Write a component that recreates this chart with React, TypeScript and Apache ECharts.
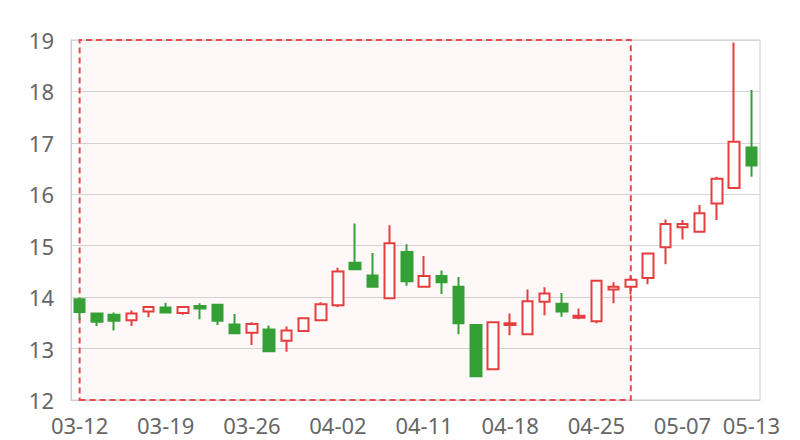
import React, { useEffect, useRef } from "react";
import * as echarts from "echarts";

const dates = [
  "03-12", "03-13", "03-14", "03-15", "03-16",
  "03-19", "03-20", "03-21", "03-22", "03-23",
  "03-26", "03-27", "03-28", "03-29", "03-30",
  "04-02", "04-03", "04-04", "04-09", "04-10",
  "04-11", "04-12", "04-13", "04-16", "04-17",
  "04-18", "04-19", "04-20", "04-23", "04-24",
  "04-25", "04-26", "04-27", "05-02", "05-03",
  "05-07", "05-08", "05-09", "05-10", "05-13",
];

// [open, close, low, high]
const ohlc = [
  [13.96, 13.71, 13.56, 13.99],
  [13.68, 13.52, 13.44, 13.69],
  [13.66, 13.54, 13.35, 13.7],
  [13.55, 13.68, 13.44, 13.74],
  [13.72, 13.81, 13.61, 13.82],
  [13.8, 13.7, 13.69, 13.89],
  [13.69, 13.81, 13.66, 13.82],
  [13.83, 13.78, 13.57, 13.88],
  [13.85, 13.54, 13.46, 13.86],
  [13.47, 13.3, 13.29, 13.67],
  [13.31, 13.48, 13.07, 13.51],
  [13.37, 12.95, 12.94, 13.45],
  [13.15, 13.35, 12.94, 13.43],
  [13.34, 13.59, 13.33, 13.6],
  [13.55, 13.86, 13.54, 13.9],
  [13.84, 14.5, 13.81, 14.57],
  [14.67, 14.54, 14.53, 15.43],
  [14.42, 14.2, 14.19, 14.86],
  [13.98, 15.05, 13.97, 15.4],
  [14.88, 14.31, 14.22, 15.03],
  [14.2, 14.41, 14.19, 14.8],
  [14.41, 14.29, 14.06, 14.52],
  [14.2, 13.49, 13.28, 14.39],
  [13.46, 12.46, 12.45, 13.47],
  [12.6, 13.51, 12.59, 13.52],
  [13.46, 13.49, 13.26, 13.68],
  [13.28, 13.92, 13.26, 14.15],
  [13.91, 14.07, 13.65, 14.19],
  [13.87, 13.72, 13.62, 14.08],
  [13.6, 13.64, 13.57, 13.78],
  [13.53, 14.32, 13.49, 14.33],
  [14.15, 14.2, 13.88, 14.29],
  [14.2, 14.34, 14.05, 14.42],
  [14.37, 14.85, 14.25, 14.87],
  [14.97, 15.42, 14.64, 15.51],
  [15.36, 15.42, 15.12, 15.5],
  [15.27, 15.63, 15.26, 15.79],
  [15.82, 16.3, 15.5, 16.34],
  [16.12, 17.02, 16.11, 18.95],
  [16.91, 16.56, 16.34, 18.03],
];

const yTicks = { min: 12, max: 19, interval: 1 };
const areaRange = ["03-12", "04-27"];

const RED = "#e63e3e";
const GREEN = "#35a035";

export default function App() {
  const ref = useRef<HTMLDivElement>(null);
  useEffect(() => {
    document.body.style.margin = "0";
    if (!ref.current) return;
    const chart = echarts.init(ref.current, undefined, { renderer: "svg" });
    const last = dates.length - 1;
    chart.setOption({
      animation: false,
      grid: {
        left: 71,
        right: 40,
        top: 40,
        bottom: 40,
        show: true,
        borderColor: "#ccc",
        borderWidth: 1,
      },
      xAxis: {
        type: "category",
        data: dates,
        boundaryGap: true,
        axisLine: { show: true, lineStyle: { color: "#ccc" } },
        axisTick: { show: false },
        axisLabel: {
          interval: (i: number) => i % 5 === 0 || i === last,
          color: "#666",
          fontSize: 22,
          fontFamily: "Noto Sans",
          margin: 14,
        },
        splitLine: { show: false },
      },
      yAxis: {
        type: "value",
        min: yTicks.min,
        max: yTicks.max,
        interval: yTicks.interval,
        axisLine: { show: true, lineStyle: { color: "#ccc" } },
        axisTick: { show: false },
        axisLabel: {
          color: "#666",
          fontSize: 22,
          fontFamily: "Noto Sans",
          margin: 17,
        },
        splitLine: { show: true, lineStyle: { color: "#d6d6d6" } },
      },
      series: [
        {
          type: "candlestick",
          data: ohlc,
          barWidth: 11,
          itemStyle: {
            color: "#ffffff",
            borderColor: RED,
            color0: GREEN,
            borderColor0: GREEN,
            borderWidth: 2,
          },
          markArea: {
            silent: true,
            itemStyle: {
              color: "rgba(240, 60, 60, 0.035)",
              borderColor: "#e84a4a",
              borderWidth: 2,
              borderType: [6, 4],
            },
            data: [[{ xAxis: areaRange[0] }, { xAxis: areaRange[1] }]],
          },
        },
      ],
    });
    return () => chart.dispose();
  }, []);
  return <div ref={ref} style={{ width: 800, height: 440 }} />;
}
